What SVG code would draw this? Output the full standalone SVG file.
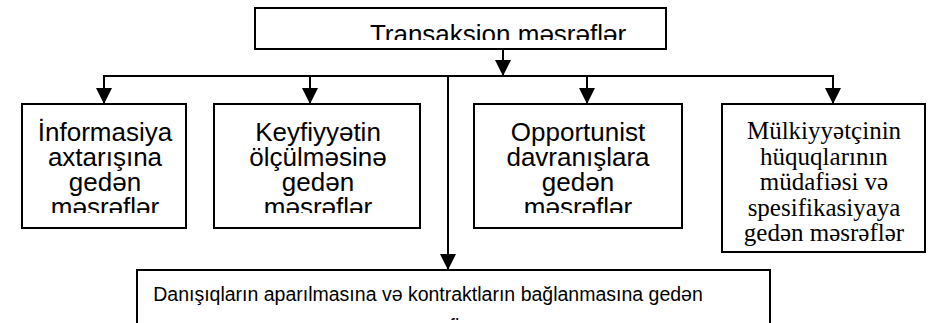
<svg xmlns="http://www.w3.org/2000/svg" width="933" height="323" viewBox="0 0 933 323">
<style>
.box{fill:#fff;stroke:#000;stroke-width:2}
.ln{fill:none;stroke:#000;stroke-width:2}
.s{font-family:"Liberation Sans",Arial,sans-serif;font-size:26px;fill:#000;text-anchor:middle}
.r{font-family:"Liberation Serif","Times New Roman",serif;font-size:25px;fill:#000;text-anchor:middle}
.b{font-family:"Liberation Sans",Arial,sans-serif;font-size:19.5px;fill:#000;text-anchor:middle}
</style>
<defs>
<marker id="ah" markerUnits="userSpaceOnUse" markerWidth="16" markerHeight="16" viewBox="0 0 16 16" refX="16" refY="8" orient="auto">
<path d="M0,0 L16,8 L0,16 Z" fill="#000"/>
</marker>
<clipPath id="c0"><rect x="256" y="9" width="409" height="31"/></clipPath>
<clipPath id="c1"><rect x="23" y="105" width="162" height="108"/></clipPath>
<clipPath id="c2"><rect x="215" y="105" width="204" height="108"/></clipPath>
<clipPath id="c3"><rect x="475" y="105" width="206" height="108"/></clipPath>
<clipPath id="c4"><rect x="723" y="105" width="201" height="141"/></clipPath>
<clipPath id="c5"><rect x="138" y="271" width="631" height="49"/></clipPath>
</defs>
<g id="connectors">
<line class="ln" x1="503" y1="49" x2="503" y2="76" marker-end="url(#ah)"/>
<line class="ln" x1="103" y1="76" x2="834" y2="76"/>
<line class="ln" x1="104" y1="76" x2="104" y2="104" marker-end="url(#ah)"/>
<line class="ln" x1="310" y1="76" x2="310" y2="104" marker-end="url(#ah)"/>
<line class="ln" x1="587" y1="76" x2="587" y2="104" marker-end="url(#ah)"/>
<line class="ln" x1="833" y1="76" x2="833" y2="104" marker-end="url(#ah)"/>
<line class="ln" x1="448" y1="76" x2="448" y2="270" marker-end="url(#ah)"/>
</g>
<g id="top">
<rect class="box" x="255" y="8" width="411" height="41"/>
<text class="s" x="498" y="43" font-size="22" clip-path="url(#c0)">Transaksion məsrəflər</text>
</g>
<g id="n1">
<rect class="box" x="22" y="104" width="164" height="124"/>
<g clip-path="url(#c1)">
<text class="s" x="105" y="141">İnformasiya</text>
<text class="s" x="105" y="166">axtarışına</text>
<text class="s" x="105" y="191">gedən</text>
<text class="s" x="105" y="216">məsrəflər</text>
</g>
</g>
<g id="n2">
<rect class="box" x="214" y="104" width="206" height="124"/>
<g clip-path="url(#c2)">
<text class="s" x="318" y="141">Keyfiyyətin</text>
<text class="s" x="318" y="166">ölçülməsinə</text>
<text class="s" x="318" y="191">gedən</text>
<text class="s" x="318" y="216">məsrəflər</text>
</g>
</g>
<g id="n3">
<rect class="box" x="474" y="104" width="208" height="124"/>
<g clip-path="url(#c3)">
<text class="s" x="578" y="141">Opportunist</text>
<text class="s" x="578" y="166">davranışlara</text>
<text class="s" x="578" y="191">gedən</text>
<text class="s" x="578" y="216">məsrəflər</text>
</g>
</g>
<g id="n4">
<rect class="box" x="722" y="104" width="203" height="148"/>
<g clip-path="url(#c4)">
<text class="r" x="824" y="139">Mülkiyyətçinin</text>
<text class="r" x="824" y="165">hüquqlarının</text>
<text class="r" x="824" y="190">müdafiəsi və</text>
<text class="r" x="824" y="216">spesifikasiyaya</text>
<text class="r" x="824" y="241">gedən məsrəflər</text>
</g>
</g>
<g id="bottom">
<rect class="box" x="137" y="270" width="633" height="80"/>
<g clip-path="url(#c5)">
<text class="b" x="428" y="301">Danışıqların aparılmasına və kontraktların bağlanmasına gedən</text>
<text class="b" x="436" y="333">məsrəflər</text>
</g>
</g>
</svg>
